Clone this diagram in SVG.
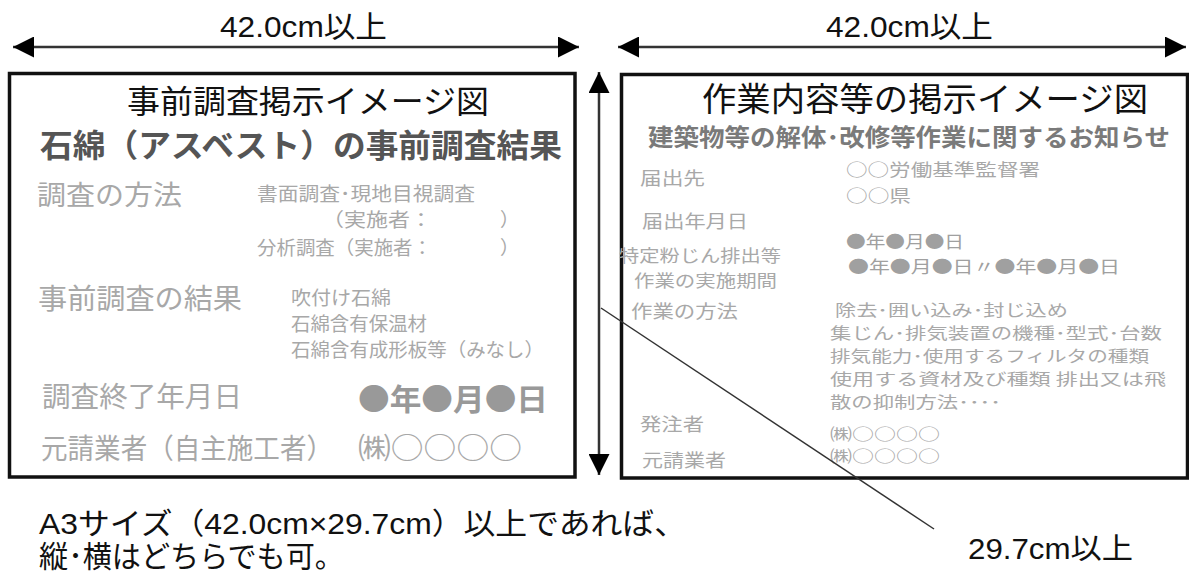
<svg xmlns="http://www.w3.org/2000/svg" width="1189" height="580" viewBox="0 0 1189 580">
<defs>
<style>
text{font-family:"Noto Sans CJK JP","Liberation Sans",sans-serif;}
.dim{font-family:"Liberation Sans","Noto Sans CJK JP",sans-serif;fill:#111;}
.title{fill:#111;}
.sub{fill:#555;font-weight:bold;}
.sub2{fill:#7a7a7a;font-weight:bold;}
.lbl{fill:#a8a8a8;}
.val{fill:#a8a8a8;}
.dot{fill:#999;font-weight:bold;}
.dot2{fill:#a0a0a0;}
.board{fill:#fff;stroke:#111;stroke-width:3.5;}
.dimline{stroke:#333;stroke-width:2.5;fill:none;}
.diag{stroke:#333;stroke-width:1.5;fill:none;}
</style>
<marker id="ah" viewBox="0 0 10 10" refX="10" refY="5" markerUnits="userSpaceOnUse" markerWidth="22" markerHeight="21" orient="auto-start-reverse">
<path d="M0,0 L10,5 L0,10 z" fill="#000"/>
</marker>
</defs>
<rect width="1189" height="580" fill="#fff"/>

<g id="left-board">
<rect class="board" x="9.5" y="73.5" width="565.5" height="403.5"/>
<text class="title" x="127" y="113" font-size="32" textLength="362" lengthAdjust="spacingAndGlyphs">事前調査掲示イメージ図</text>
<text class="sub" x="40" y="157" font-size="32" textLength="522" lengthAdjust="spacingAndGlyphs">石綿（アスベスト）の事前調査結果</text>
<text class="lbl" x="37" y="205" font-size="27" textLength="145" lengthAdjust="spacingAndGlyphs">調査の方法</text>
<text class="val" x="257" y="201" font-size="19" textLength="218" lengthAdjust="spacingAndGlyphs">書面調査･現地目視調査</text>
<text class="val" x="322" y="227" font-size="19" textLength="110" lengthAdjust="spacingAndGlyphs">（実施者：</text>
<text class="val" x="500" y="227" font-size="19">）</text>
<text class="val" x="257" y="255" font-size="19" textLength="175" lengthAdjust="spacingAndGlyphs">分析調査（実施者：</text>
<text class="val" x="500" y="255" font-size="19">）</text>
<text class="lbl" x="38" y="309" font-size="28" textLength="204" lengthAdjust="spacingAndGlyphs">事前調査の結果</text>
<text class="val" x="291" y="305" font-size="19" textLength="100" lengthAdjust="spacingAndGlyphs">吹付け石綿</text>
<text class="val" x="291" y="331" font-size="19" textLength="136" lengthAdjust="spacingAndGlyphs">石綿含有保温材</text>
<text class="val" x="291" y="357" font-size="19" textLength="253" lengthAdjust="spacingAndGlyphs">石綿含有成形板等（みなし）</text>
<text class="lbl" x="42" y="407" font-size="28" textLength="200" lengthAdjust="spacingAndGlyphs">調査終了年月日</text>
<text class="dot" x="358" y="410" font-size="30" textLength="190" lengthAdjust="spacingAndGlyphs">●年●月●日</text>
<text class="lbl" x="41" y="459" font-size="28" textLength="292" lengthAdjust="spacingAndGlyphs">元請業者（自主施工者）</text>
<text class="val" x="358" y="459" font-size="29" textLength="164" lengthAdjust="spacingAndGlyphs">㈱○○○○</text>
</g>

<g id="right-board">
<rect class="board" x="621.5" y="74.5" width="566" height="403.5"/>
<text class="title" x="702" y="111" font-size="33" textLength="446" lengthAdjust="spacingAndGlyphs">作業内容等の掲示イメージ図</text>
<text class="sub2" x="648" y="146" font-size="24" textLength="522" lengthAdjust="spacingAndGlyphs">建築物等の解体･改修等作業に関するお知らせ</text>
<text class="lbl" x="640" y="185" font-size="18" textLength="65" lengthAdjust="spacingAndGlyphs">届出先</text>
<text class="val" x="846" y="176" font-size="17" textLength="194" lengthAdjust="spacingAndGlyphs">○○労働基準監督署</text>
<text class="val" x="846" y="202" font-size="17" textLength="65" lengthAdjust="spacingAndGlyphs">○○県</text>
<text class="lbl" x="642" y="228" font-size="18" textLength="106" lengthAdjust="spacingAndGlyphs">届出年月日</text>
<text class="dot2" x="846" y="248" font-size="17" textLength="118" lengthAdjust="spacingAndGlyphs">●年●月●日</text>
<text class="lbl" x="619" y="262" font-size="16.5" textLength="162" lengthAdjust="spacingAndGlyphs">特定粉じん排出等</text>
<text class="dot2" x="848" y="273" font-size="17" textLength="272" lengthAdjust="spacingAndGlyphs">●年●月●日〃●年●月●日</text>
<text class="lbl" x="634" y="287" font-size="16.5" textLength="143" lengthAdjust="spacingAndGlyphs">作業の実施期間</text>
<text class="lbl" x="631" y="318" font-size="18" textLength="107" lengthAdjust="spacingAndGlyphs">作業の方法</text>
<text class="val" x="835" y="316" font-size="15.5" textLength="233" lengthAdjust="spacingAndGlyphs">除去･囲い込み･封じ込め</text>
<text class="val" x="830" y="339" font-size="15.5" textLength="332" lengthAdjust="spacingAndGlyphs">集じん･排気装置の機種･型式･台数</text>
<text class="val" x="830" y="362" font-size="15.5" textLength="319" lengthAdjust="spacingAndGlyphs">排気能力･使用するフィルタの種類</text>
<text class="val" x="830" y="385" font-size="15.5" textLength="336" lengthAdjust="spacingAndGlyphs">使用する資材及び種類 排出又は飛</text>
<text class="val" x="830" y="408" font-size="15.5" textLength="171" lengthAdjust="spacingAndGlyphs">散の抑制方法････</text>
<text class="lbl" x="640" y="431" font-size="18" textLength="64" lengthAdjust="spacingAndGlyphs">発注者</text>
<text class="val" x="830" y="440" font-size="16" textLength="110" lengthAdjust="spacingAndGlyphs">㈱○○○○</text>
<text class="lbl" x="642" y="467" font-size="18" textLength="84" lengthAdjust="spacingAndGlyphs">元請業者</text>
<text class="val" x="830" y="462" font-size="16" textLength="110" lengthAdjust="spacingAndGlyphs">㈱○○○○</text>
</g>

<g id="dimension-labels">
<text class="dim" x="220" y="37" font-size="30" textLength="167" lengthAdjust="spacingAndGlyphs">42.0cm以上</text>
<text class="dim" x="826" y="37" font-size="30" textLength="167" lengthAdjust="spacingAndGlyphs">42.0cm以上</text>
<text class="dim" x="968" y="559" font-size="29" textLength="165" lengthAdjust="spacingAndGlyphs">29.7cm以上</text>
</g>

<g id="note">
<text class="dim" x="39" y="534" font-size="30" textLength="647" lengthAdjust="spacingAndGlyphs">A3サイズ（42.0cm×29.7cm）以上であれば、</text>
<text class="dim" x="39" y="567" font-size="30" textLength="305" lengthAdjust="spacingAndGlyphs">縦･横はどちらでも可。</text>
</g>

<g id="connectors">
<line class="dimline" x1="13" y1="47" x2="579" y2="47" marker-start="url(#ah)" marker-end="url(#ah)"/>
<line class="dimline" x1="618" y1="47" x2="1186" y2="47" marker-start="url(#ah)" marker-end="url(#ah)"/>
<line class="dimline" x1="599" y1="72" x2="599" y2="475" marker-start="url(#ah)" marker-end="url(#ah)"/>
<line class="diag" x1="601" y1="308" x2="934" y2="529"/>
</g>
</svg>
